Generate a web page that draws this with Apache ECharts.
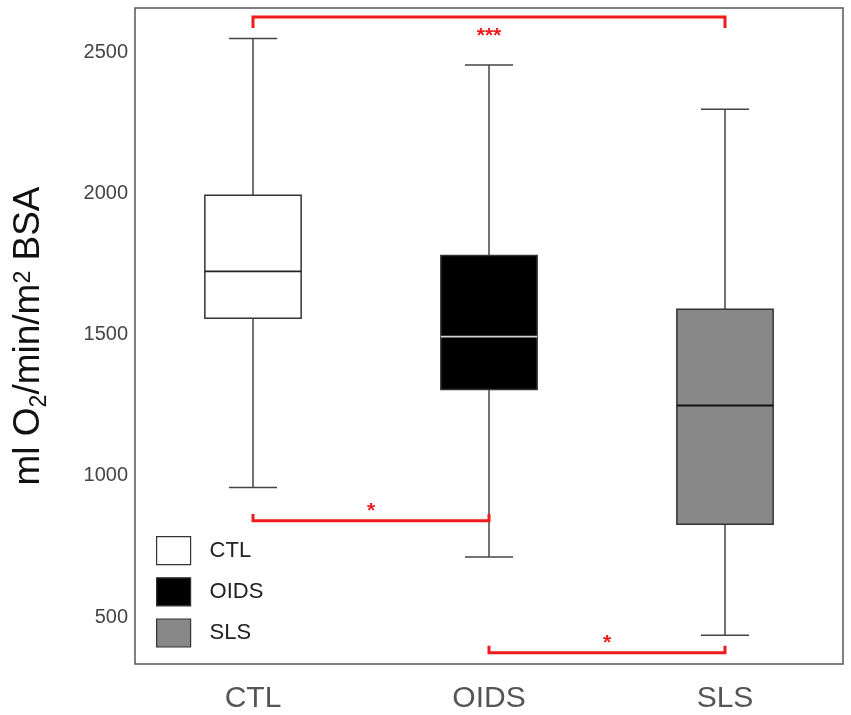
<!DOCTYPE html>
<html>
<head>
<meta charset="utf-8">
<script src="https://cdn.jsdelivr.net/npm/echarts@6/dist/echarts.min.js"></script>
<style>
  html, body { margin: 0; padding: 0; background: #fff; }
  #main { width: 851px; height: 715px; }
</style>
</head>
<body>
<div id="main"></div>
<script>
// groups and box stats
var groups = ['CTL', 'OIDS', 'SLS']
var lowWhisker = [959, 713, 436]
var q1 = [1558, 1306, 829]
var median = [1724, 1493, 1249]
var q3 = [1993, 1780, 1590]
var highWhisker = [2548, 2454, 2298]
var fills = ['#ffffff', '#000000', '#888888']
var medianColors = ['#222222', '#d8d8d8', '#111111']

// significance brackets: from group, to group, level of bar, length of the end ticks (value units), label
var bracketFrom = [0, 0, 1]
var bracketTo = [2, 1, 2]
var bracketLevel = [2624, 841, 374]
var bracketTick = [-39, 24, 25]
var bracketLabel = ['***', '*', '*']

var yMin = 334
var yMax = 2656

var chart = echarts.init(document.getElementById('main'))

var boxData = []
for (var i = 0; i < groups.length; i++) {
  boxData.push([i, lowWhisker[i], q1[i], median[i], q3[i], highWhisker[i]])
}
var bracketData = []
for (var j = 0; j < bracketFrom.length; j++) {
  bracketData.push([bracketFrom[j], bracketTo[j], bracketLevel[j], bracketTick[j], j])
}

var lineCol = '#444'

const option = {
  animation: false,
  grid: {
    left: 135, right: 8, top: 8, bottom: 51,
    outerBoundsMode: 'none',
    containLabel: false,
    show: true, borderColor: '#555', borderWidth: 1.5, backgroundColor: 'transparent'
  },
  legend: {
    orient: 'vertical',
    left: 156,
    top: 536,
    padding: 0,
    itemWidth: 34,
    itemHeight: 28,
    itemGap: 12,
    selectedMode: false,
    textStyle: { fontFamily: 'Liberation Sans', fontSize: 22, color: '#222', padding: [0, 0, 0, 14] },
    data: groups.map(function (g, i) {
      return { name: g, icon: 'rect', itemStyle: { color: fills[i], borderColor: '#333', borderWidth: 1.2, opacity: 1 } }
    })
  },
  xAxis: {
    type: 'category',
    data: groups,
    boundaryGap: true,
    axisLine: { show: false },
    axisTick: { show: false },
    axisLabel: { fontFamily: 'Liberation Sans', fontSize: 30, color: '#555', margin: 20 }
  },
  yAxis: {
    type: 'value',
    min: yMin,
    max: yMax,
    splitNumber: 5,
    splitLine: { show: false },
    axisLine: { show: false },
    axisTick: { show: false },
    axisLabel: {
      fontFamily: 'Liberation Sans', fontSize: 20, color: '#444', margin: 7,
      showMinLabel: false, showMaxLabel: false,
      formatter: function (v) { return String(v) }
    },
    name: '{a|ml O}{sub|2}{a|/min/m}{sup|2}{a| BSA}',
    nameLocation: 'middle',
    nameGap: 84,
    nameTextStyle: {
      rich: {
        a: { fontFamily: 'Liberation Sans', fontSize: 37, color: '#111', lineHeight: 44, verticalAlign: 'middle' },
        sub: { fontFamily: 'Liberation Sans', fontSize: 23, color: '#111', lineHeight: 44, verticalAlign: 'bottom', padding: [0, 0, 0, 0] },
        sup: { fontFamily: 'Liberation Sans', fontSize: 23, color: '#111', lineHeight: 44, verticalAlign: 'top', padding: [5, 0, 0, 0] }
      }
    }
  },
  series: [
    {
      type: 'custom',
      name: 'box',
      data: boxData,
      encode: { x: 0, y: [1, 2, 3, 4, 5] },
      renderItem: function (params, api) {
        var x = api.value(0)
        var idx = params.dataIndex
        var lo = api.coord([x, api.value(1)])
        var b1 = api.coord([x, api.value(2)])
        var md = api.coord([x, api.value(3)])
        var b3 = api.coord([x, api.value(4)])
        var hi = api.coord([x, api.value(5)])
        var band = api.size([1, 0])[0]
        var hw = band * 0.204
        var hc = band * 0.102
        var cx = lo[0]
        var stroke = { stroke: lineCol, lineWidth: 1.5 }
        return {
          type: 'group',
          children: [
            { type: 'line', shape: { x1: cx, y1: hi[1], x2: cx, y2: b3[1] }, style: stroke },
            { type: 'line', shape: { x1: cx, y1: b1[1], x2: cx, y2: lo[1] }, style: stroke },
            { type: 'line', shape: { x1: cx - hc, y1: hi[1], x2: cx + hc, y2: hi[1] }, style: stroke },
            { type: 'line', shape: { x1: cx - hc, y1: lo[1], x2: cx + hc, y2: lo[1] }, style: stroke },
            {
              type: 'rect',
              shape: { x: cx - hw, y: b3[1], width: hw * 2, height: b1[1] - b3[1] },
              style: { fill: fills[idx], stroke: '#333', lineWidth: 1.5 }
            },
            {
              type: 'line',
              shape: { x1: cx - hw, y1: md[1], x2: cx + hw, y2: md[1] },
              style: { stroke: medianColors[idx], lineWidth: 1.8 }
            }
          ]
        }
      }
    },
    {
      type: 'custom',
      name: 'brackets',
      data: bracketData,
      renderItem: function (params, api) {
        var a = api.coord([api.value(0), api.value(2)])
        var b = api.coord([api.value(1), api.value(2)])
        var endY = api.coord([api.value(0), api.value(2) + api.value(3)])[1]
        var k = api.value(4)
        var red = '#ee1c1c'
        var up = api.value(3) > 0
        return {
          type: 'group',
          children: [
            {
              type: 'polyline',
              shape: { points: [[a[0], endY], [a[0], a[1]], [b[0], b[1]], [b[0], endY]] },
              style: { stroke: red, lineWidth: 3, fill: null }
            },
            {
              type: 'text',
              x: (a[0] + b[0]) / 2,
              y: up ? a[1] + 1 : a[1] + 9,
              style: {
                text: bracketLabel[k],
                fill: red,
                font: 'bold 21px "Liberation Sans"',
                align: 'center',
                verticalAlign: up ? 'bottom' : 'top'
              }
            }
          ]
        }
      }
    },
    { type: 'scatter', name: 'CTL', data: [], itemStyle: { opacity: 1 } },
    { type: 'scatter', name: 'OIDS', data: [], itemStyle: { opacity: 1 } },
    { type: 'scatter', name: 'SLS', data: [], itemStyle: { opacity: 1 } }
  ]
}
chart.setOption(option)
</script>
</body>
</html>
